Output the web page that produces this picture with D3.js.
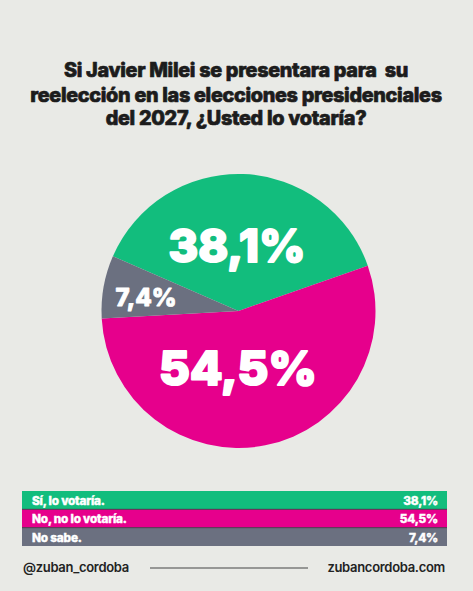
<!DOCTYPE html>
<html><head><meta charset="utf-8">
<script src="https://cdn.jsdelivr.net/npm/d3@7"></script>
<style>
html,body{margin:0;padding:0;background:#e9eae6;}
svg{display:block;}
svg text{white-space:pre;}
</style></head>
<body>
<svg id="chart" width="473" height="591"></svg>
<script>
const titleLines = ["Si Javier Milei se presentara para  su", "reelección en las elecciones presidenciales", "del 2027, ¿Usted lo votaría?"];
const categories = ["Sí, lo votaría.", "No, no lo votaría.", "No sabe."];
const values = [38.1, 54.5, 7.4];
const colors = ["#12bd7d", "#e6008c", "#6b7080"];
const footerLeft = "@zuban_cordoba";
const footerRight = "zubancordoba.com";

const FONT = "Inter, 'Open Sans', sans-serif";
const fmt = v => d3.format(".1f")(v).replace(".", ",") + "%";
const svg = d3.select("#chart");
const W = 473;
svg.append("rect").attr("width", W).attr("height", 591).attr("fill", "#e9eae6");

function fit(sel, target) {
  sel.each(function () {
    const fs = parseFloat(this.getAttribute("font-size"));
    const w = this.getComputedTextLength();
    if (w > 0) this.setAttribute("font-size", (fs * target / w).toFixed(2));
  });
}

// Title
const title = svg.append("g").attr("font-family", FONT).attr("font-weight", 800)
  .attr("fill", "#1c1c1c").attr("stroke", "#1c1c1c").attr("stroke-width", 0.7)
  .attr("stroke-linejoin", "round").attr("text-anchor", "middle");
const tBase = [77, 102, 125];
const tLines = titleLines.map((t, i) =>
  title.append("text").attr("x", 236).attr("y", tBase[i]).attr("font-size", 22).attr("letter-spacing", -0.3).text(t));
fit(tLines[1], 413);
const tfs = tLines[1].attr("font-size");
tLines.forEach(s => s.attr("font-size", tfs));

// Pie
const cx = 238.5, cy = 311, R = 137;
const start = -66.5 * Math.PI / 180;
const pie = d3.pie().sort(null).value(d => d).startAngle(start).endAngle(start + 2 * Math.PI);
const arcs = pie(values);
const arc = d3.arc().innerRadius(0).outerRadius(R);
const g = svg.append("g").attr("transform", `translate(${cx},${cy})`);
g.selectAll("path").data(arcs).join("path").attr("d", arc).attr("fill", (d, i) => colors[i]);

const labelPos = [[-1.5, -49], [-0.5, 74], [-92.5, -5]];
const labelW = [137, 158, 61];
const labelStroke = [2, 2.2, 0.9];
const labs = g.selectAll("text.lab").data(arcs).join("text").attr("class", "lab")
  .attr("x", (d, i) => labelPos[i][0]).attr("y", (d, i) => labelPos[i][1])
  .attr("text-anchor", "middle")
  .attr("font-family", FONT).attr("font-weight", 800)
  .attr("font-size", 40).attr("fill", "#ffffff").attr("stroke", "#ffffff")
  .attr("stroke-width", (d, i) => labelStroke[i]).attr("stroke-linejoin", "round")
  .text(d => fmt(d.data));
labs.each(function (d, i) { fit(d3.select(this), labelW[i]); });

// Legend table
const y = d3.scaleBand().domain(categories).range([491, 546]).paddingInner(0);
const leg = svg.append("g");
leg.selectAll("rect").data(categories).join("rect")
  .attr("x", 22).attr("width", 425).attr("y", d => y(d)).attr("height", y.bandwidth())
  .attr("fill", (d, i) => colors[i]);
leg.selectAll("line").data(categories.slice(1)).join("line")
  .attr("x1", 22).attr("x2", 447).attr("y1", d => y(d)).attr("y2", d => y(d))
  .attr("stroke", "#3a2a3a").attr("stroke-width", 0.8);
leg.selectAll("text.l").data(categories).join("text").attr("class", "l")
  .attr("x", 32).attr("y", d => y(d) + 14)
  .attr("font-family", FONT).attr("letter-spacing", -0.2)
  .attr("font-weight", 800).attr("font-size", 12.5).attr("fill", "#fff").text(d => d);
leg.selectAll("text.r").data(values).join("text").attr("class", "r")
  .attr("x", 438).attr("y", (d, i) => y(categories[i]) + 14)
  .attr("text-anchor", "end").attr("font-family", FONT).attr("letter-spacing", -0.2)
  .attr("font-weight", 800).attr("font-size", 12.5).attr("fill", "#fff").text(d => fmt(d));
fit(leg.selectAll("text.l").filter((d, i) => i === 1), 95);
const lfs = leg.selectAll("text.l").filter((d, i) => i === 1).attr("font-size");
leg.selectAll("text").attr("font-size", lfs).attr("stroke", "#fff").attr("stroke-width", 0.4);

// Footer
const ft = svg.append("g").attr("font-family", FONT).attr("font-weight", 600)
  .attr("font-size", 13).attr("fill", "#222").attr("letter-spacing", -0.3);
const fl = ft.append("text").attr("x", 23).attr("y", 572).text(footerLeft);
const fr = ft.append("text").attr("x", 445).attr("y", 572).attr("text-anchor", "end").text(footerRight);
fit(fl, 110); fit(fr, 120);
svg.append("line").attr("x1", 150).attr("x2", 308).attr("y1", 568).attr("y2", 568)
  .attr("stroke", "#444").attr("stroke-width", 1.2);
</script>
</body></html>
